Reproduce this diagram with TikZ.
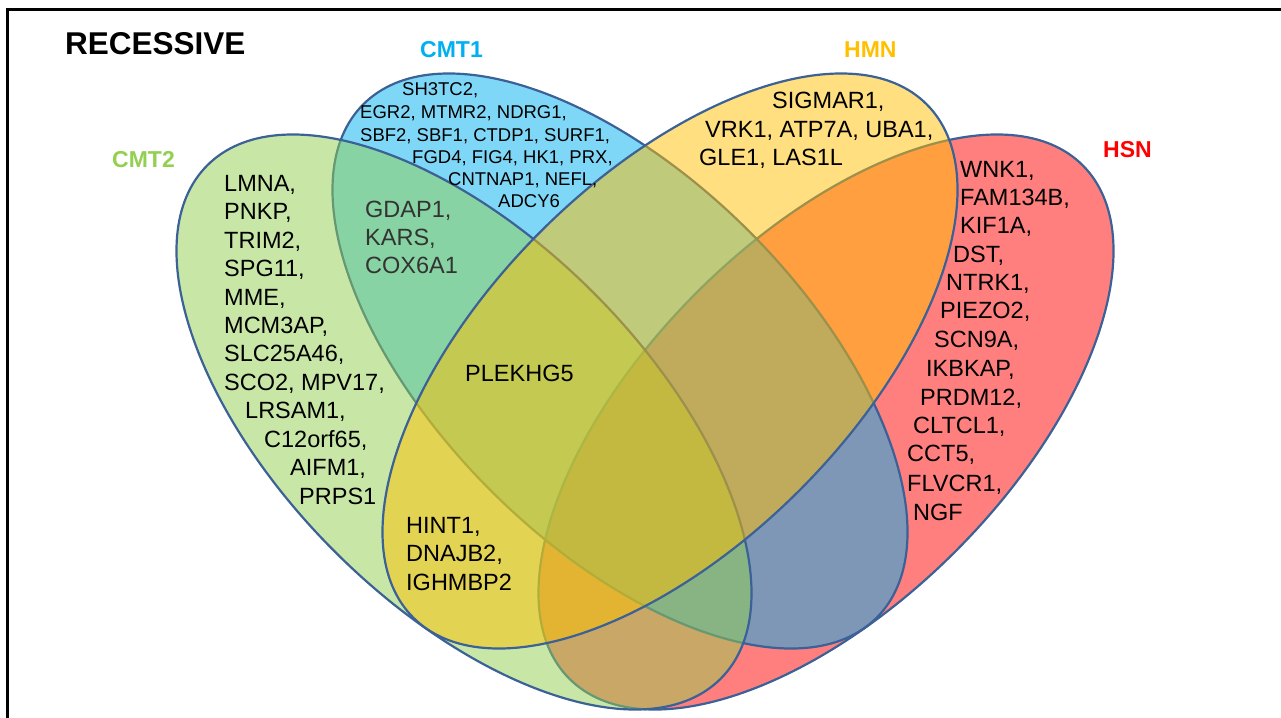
\documentclass[tikz,border=0pt]{standalone}
\usepackage{fontspec}
\setmainfont{Liberation Sans}
\definecolor{cmtone}{HTML}{00B0F0}
\definecolor{cmttwo}{HTML}{92D050}
\definecolor{hmn}{HTML}{FFC000}
\definecolor{hsn}{HTML}{FF0000}
\definecolor{rim}{HTML}{3B6196}
\tikzset{
  setfill/.style={fill=#1, fill opacity=0.5, draw=rim, line width=2.2pt},
  setname/.style={text=#1, font=\fontsize{23}{27}\selectfont\bfseries, anchor=base west, inner sep=0pt},
  gene/.style={font=\fontsize{23.5}{28}\selectfont, anchor=base west, inner sep=0pt},
  smallgene/.style={font=\fontsize{18.5}{22}\selectfont, anchor=base west, inner sep=0pt}
}
\begin{document}
\begin{tikzpicture}[x=1pt,y=-1pt]
\useasboundingbox (0,0) rectangle (1281,717);
\clip (0,0) rectangle (1281,717);
\pgfmathsetmacro{\a}{363}
\pgfmathsetmacro{\b}{183}
\draw[line width=3pt] (7,10) rectangle (1300,740);
% ellipses, bottom one first
\draw[setfill=hsn, rotate around={45:(826,422)}] (826,422) ellipse ({\a} and {\b});
\draw[setfill=cmtone, rotate around={-45:(620,361)}] (620,361) ellipse ({\a} and {\b});
\draw[setfill=cmttwo, rotate around={-45:(464,422)}] (464,422) ellipse ({\a} and {\b});
\draw[setfill=hmn, rotate around={45:(670,361)}] (670,361) ellipse ({\a} and {\b});
% titles
\node[setname=black, font=\fontsize{31.5}{34}\selectfont\bfseries] (title) at (65,55) {RECESSIVE};
\node[setname=cmtone] (cmt1name) at (420,57) {CMT1};
\node[setname=hmn] (hmnname) at (844,57) {HMN};
\node[setname=cmttwo] (cmt2name) at (112,167) {CMT2};
\node[setname=hsn] (hsnname) at (1103,157) {HSN};
% CMT1 only
\foreach \gx/\gy/\gt [count=\i] in {402/95/{SH3TC2,}, 360/118/{EGR2, MTMR2, NDRG1,},
  360/141/{SBF2, SBF1, CTDP1, SURF1,}, 412/163/{FGD4, FIG4, HK1, PRX,},
  448/185/{CNTNAP1, NEFL,}, 498/207/{ADCY6}}
  \node[smallgene] (cmt1gene\i) at (\gx,\gy) {\gt};
% CMT2 only
\foreach \gx/\gy/\gt [count=\i] in {224/191/{LMNA,}, 224/219.5/{PNKP,}, 224/248/{TRIM2,},
  224/276/{SPG11,}, 224/305/{MME,}, 224/333/{MCM3AP,}, 224/361/{SLC25A46,},
  224/390/{SCO2, MPV17,}, 245/418/{LRSAM1,}, 264/447/{C12orf65,}, 290/475/{AIFM1,},
  299/504/{PRPS1}}
  \node[gene] (cmt2gene\i) at (\gx,\gy) {\gt};
% CMT1 and CMT2
\foreach \gy/\gt [count=\i] in {217/{GDAP1,}, 245/{KARS,}, 273/{COX6A1}}
  \node[gene, text=black!80] (bothgene\i) at (365,\gy) {\gt};
\node[gene] (plekhg) at (465,381) {PLEKHG5};
% CMT2 and HMN
\foreach \gy/\gt [count=\i] in {533/{HINT1,}, 561/{DNAJB2,}, 590/{IGHMBP2}}
  \node[gene] (motorgene\i) at (406,\gy) {\gt};
% HMN only
\foreach \gx/\gy/\gt [count=\i] in {772/108/{SIGMAR1,}, 705/137/{VRK1, ATP7A, UBA1,},
  699/165/{GLE1, LAS1L}}
  \node[gene] (hmngene\i) at (\gx,\gy) {\gt};
% HSN only
\foreach \gx/\gy/\gt [count=\i] in {960/177/{WNK1,}, 960/205/{FAM134B,}, 960/233/{KIF1A,},
  953/262/{DST,}, 946/290/{NTRK1,}, 940/318/{PIEZO2,}, 934/347/{SCN9A,},
  926/376/{IKBKAP,}, 920/405/{PRDM12,}, 913/433/{CLTCL1,}, 907/461/{CCT5,},
  907/491/{FLVCR1,}, 913/520/{NGF}}
  \node[gene] (hsngene\i) at (\gx,\gy) {\gt};
\end{tikzpicture}
\end{document}
